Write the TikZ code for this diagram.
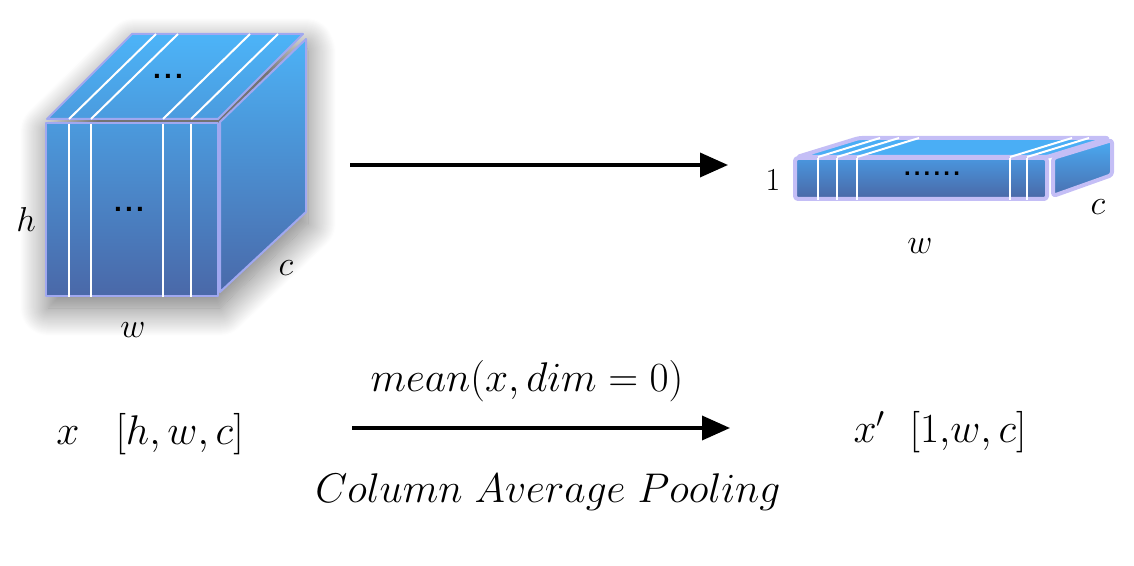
\documentclass[tikz,border=0pt]{standalone}
\usepackage{fontspec}
\newfontfamily\dotfont{Liberation Sans}
\usetikzlibrary{arrows.meta,shadows.blur}
\definecolor{edgeL}{RGB}{160,168,240}
\definecolor{edgeS}{RGB}{196,190,246}
\definecolor{cA}{RGB}{76,180,248}
\definecolor{cTopB}{RGB}{75,155,222}
\definecolor{cFrontT}{RGB}{75,154,221}
\definecolor{cB}{RGB}{74,104,168}
\definecolor{cRightT}{RGB}{76,178,246}
\definecolor{cRightB}{RGB}{74,105,169}
\definecolor{sTop}{RGB}{74,174,245}
\definecolor{sFrontT}{RGB}{74,150,222}
\definecolor{sFrontB}{RGB}{74,104,166}
\definecolor{sRightT}{RGB}{74,170,242}
\definecolor{sRightB}{RGB}{74,112,176}
\tikzset{
  cubeface/.style={draw=edgeL, line width=1pt, line join=round},
  slabface/.style={draw=edgeS, line width=2pt, line join=round, rounded corners=1.5pt},
  slice/.style={draw=white, line width=1pt},
  flow/.style={draw=black, line width=1.8pt, -{Triangle[length=14pt,width=12pt,fill=black]}},
  biglabel/.style={inner sep=0pt, font=\fontsize{20}{24}\selectfont},
  dimlabel/.style={inner sep=0pt, font=\fontsize{16}{19}\selectfont},
  dotlabel/.style={inner sep=0pt, font=\fontsize{14}{16}\dotfont\bfseries},
}
\newcommand{\dotgap}{\kern1.6pt}
\begin{document}
\begin{tikzpicture}[x=0.5pt,y=-0.5pt]
\useasboundingbox (0,0) rectangle (1134,566);
% cube shadow
\path[blur shadow={shadow xshift=1pt, shadow yshift=-6pt, shadow blur radius=14pt, shadow blur steps=28, shadow opacity=55}]
  (46,119) -- (132,34) -- (304,34) -- (306,39) -- (306,212) -- (220,294) -- (218,296) -- (46,296) -- cycle;
% cube faces
\path[cubeface, top color=cA, bottom color=cTopB] (47,119) -- (132,34) -- (303,34) -- (218,119) -- cycle;
\path[cubeface, top color=cRightT, bottom color=cRightB] (220,122) -- (306,39) -- (306,212) -- (220,292) -- cycle;
\path[cubeface, top color=cFrontT, bottom color=cB] (46,123) rectangle (218,296);
\foreach \x in {69,91,163,191}{
  \draw[slice] (\x,124) -- (\x,297);
  \draw[slice] (\x,119) -- (\x+87,34);
}
\node[dotlabel] (dtop) at (168,76) {.\dotgap.\dotgap.};
\node[dotlabel] (dfront) at (129,209) {.\dotgap.\dotgap.};
\node[dimlabel] (lh) at (26,220) {$h$};
\node[dimlabel] (lc) at (286,268) {$c$};
\node[dimlabel] (lw) at (133,330) {$w$};
% slab
\path[slabface, fill=sTop] (797,157) -- (859,138) -- (1109,138) -- (1047,157) -- cycle;
\path[slabface, top color=sRightT, bottom color=sRightB] (1053,158) -- (1112,140) -- (1112,175) -- (1053,196) -- cycle;
\path[slabface, top color=sFrontT, bottom color=sFrontB] (795,158) rectangle (1047,199);
\foreach \x in {818,837,857,1010,1027}{
  \draw[slice] (\x,158) -- (\x,200);
  \draw[slice] (\x,157) -- (\x+62,138);
}
\node[inner sep=0pt, font=\fontsize{12}{14}\dotfont\bfseries] (dslab) at (932,174) {.\dotgap.\dotgap.\dotgap.\dotgap.\dotgap.};
\node[inner sep=0pt, font=\fontsize{16}{19}\selectfont] (l1) at (773,180) {1};
\node[dimlabel] (lc2) at (1098,207) {$c$};
\node[dimlabel] (lw2) at (920,246) {$w$};
% arrows
\coordinate (a1s) at (350,165);
\coordinate (a1e) at (728,165);
\draw[flow] (a1s) -- (a1e);
\coordinate (a2s) at (352,428);
\coordinate (a2e) at (730,428);
\draw[flow] (a2s) -- (a2e);
% texts
\node[biglabel] (xin) at (150,434) {$x\ \ \ [h,w,c]$};
\node[biglabel] (xout) at (940,432) {$x'\ \ [1{,}w,c]$};
\node[biglabel] (mean) at (527,381) {$mean(x,dim=0)$};
\node[biglabel] (pool) at (548,492) {$Column\ Average\ Pooling$};
\end{tikzpicture}
\end{document}
